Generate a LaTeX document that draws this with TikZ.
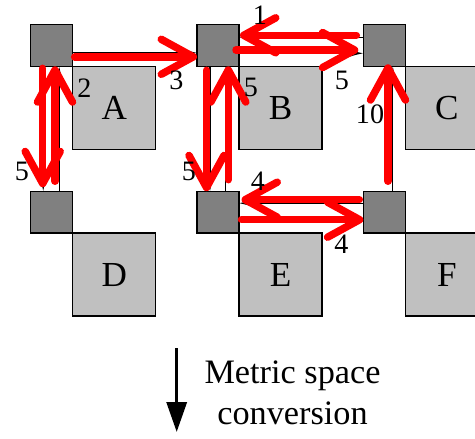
\documentclass[tikz,border=0pt]{standalone}
\usepackage{fontspec}
\setmainfont{Liberation Serif}
\usetikzlibrary{arrows.meta,positioning}
\definecolor{cellDark}{HTML}{808080}
\definecolor{cellLight}{HTML}{C0C0C0}
\definecolor{pathRed}{HTML}{FF0000}

\begin{document}
\begin{tikzpicture}[x=0.02cm,y=-0.02cm,
  port/.style={draw=black,line width=0.8pt,fill=cellDark,minimum size=0.84cm,inner sep=0pt,outer sep=0pt},
  cell/.style={draw=black,line width=0.8pt,fill=cellLight,minimum size=1.66cm,inner sep=0pt,outer sep=0pt,
    font=\fontsize{20}{24}\selectfont},
  link/.style={draw=black,line width=0.6pt,-{Latex[length=3.6mm,width=2mm]}},
  route/.style={draw=pathRed,line width=1.5mm,line cap=round,-{Straight Barb[length=6.4mm,width=7mm,round]}},
  wt/.style={font=\fontsize{16}{18}\selectfont,inner sep=0pt}]

\useasboundingbox (0,0) rectangle (475,438);
\clip (0,0) rectangle (475,438);

% switch ports
\node[port] (n1) at (51.7,45.3) {};
\node[port] (n2) at (218,45.3) {};
\node[port] (n3) at (384.3,45.3) {};
\node[port] (n4) at (51.7,212.2) {};
\node[port] (n5) at (218,212.2) {};
\node[port] (n6) at (384.3,212.2) {};

% cells
\node[cell,below right=0pt of n1] (A) {A};
\node[cell,below right=0pt of n2] (B) {B};
\node[cell,below right=0pt of n3] (C) {C};
\node[cell,below right=0pt of n4] (D) {D};
\node[cell,below right=0pt of n5] (E) {E};
\node[cell,below right=0pt of n6] (F) {F};

% underlying links
\draw[link] ([yshift=-1.5mm]n1.east) -- ([yshift=-1.5mm]n2.west);
\draw[link] ([yshift=1.6mm]n3.west) -- ([yshift=1.6mm]n2.east);
\draw[link] ([yshift=-1.6mm]n2.east) -- ([yshift=-1.6mm]n3.west);
\draw[link] ([xshift=-1.7mm]n1.south) -- ([xshift=-1.7mm]n4.north);
\draw[link] ([xshift=1.5mm]n4.north) -- ([xshift=1.5mm]n1.south);
\draw[link] ([xshift=-1.6mm]n2.south) -- ([xshift=-1.6mm]n5.north);
\draw[link] ([xshift=1.55mm]n5.north) -- ([xshift=1.55mm]n2.south);
\draw[link] ([xshift=1.7mm]n6.north) -- ([xshift=1.7mm]n3.south);
\draw[link] ([yshift=1.8mm]n6.west) -- ([yshift=1.8mm]n5.east);
\draw[link] ([yshift=-1.5mm]n5.east) -- ([yshift=-1.5mm]n6.west);

% routes
\draw[route] ([xshift=0.4mm,yshift=-2.3mm]n1.east) -- ([yshift=-2.3mm]n2.west);
\draw[route] ([xshift=-0.6mm,yshift=-0.95mm]n2.east) -- ([xshift=-1mm,yshift=-0.95mm]n3.west);
\draw[route] ([xshift=-1.4mm,yshift=2mm]n3.west) -- ([xshift=0.2mm,yshift=2mm]n2.east);
\draw[route] ([xshift=-1.8mm,yshift=-0.4mm]n1.south) -- ([xshift=-1.8mm,yshift=0.8mm]n4.north);
\draw[route] ([xshift=0.66mm,yshift=2mm]n4.north) -- ([xshift=0.66mm]n1.south);
\draw[route] ([xshift=-2.3mm,yshift=-0.8mm]n2.south) -- ([xshift=-2.3mm]n5.north);
\draw[route] ([xshift=2.06mm,yshift=2.3mm]n5.north) -- ([xshift=2.06mm]n2.south);
\draw[route] ([xshift=0.74mm,yshift=2mm]n6.north) -- ([xshift=0.74mm,yshift=0.4mm]n3.south);
\draw[route] ([xshift=-0.8mm,yshift=2.5mm]n6.west) -- ([xshift=0.5mm,yshift=2.5mm]n5.east);
\draw[route] ([xshift=0.5mm,yshift=-1.5mm]n5.east) -- ([yshift=-1.5mm]n6.west);

% weights
\node[wt] (w1) at (260,15) {1};
\node[wt] (w2) at (84.5,88) {2};
\node[wt] (w3) at (176.5,80) {3};
\node[wt] (w4) at (22,171) {5};
\node[wt] (w5) at (189,171) {5};
\node[wt] (w6) at (251,87) {5};
\node[wt] (w7) at (342,80) {5};
\node[wt] (w8) at (370,114.5) {10};
\node[wt] (w9) at (258,181) {4};
\node[wt] (w10) at (341.5,244) {4};

% conversion
\coordinate (cvtop) at (176.7,348);
\coordinate (cvbot) at (176.7,432);
\draw[line width=1.9pt,-{Triangle[length=6mm,width=4mm]}] (cvtop) -- (cvbot);
\node[align=center,font=\fontsize{19.5}{23.6}\selectfont] (conv) at (292.5,393) {Metric space\\conversion};
\end{tikzpicture}
\end{document}
